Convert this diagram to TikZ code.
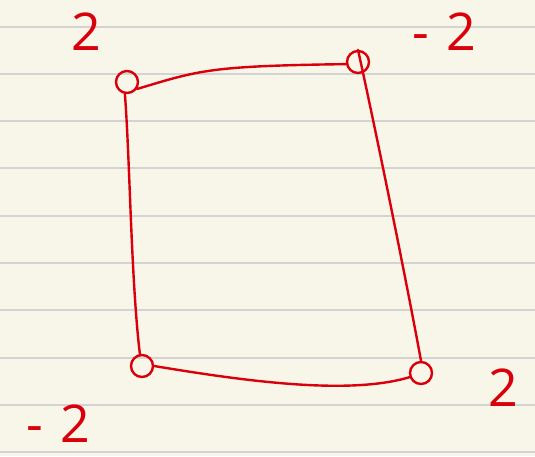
\documentclass[tikz,border=0pt]{standalone}
\usepackage{fontspec}
\setsansfont{Open Sans}
\definecolor{paper}{HTML}{F8F5E9}
\definecolor{rule}{HTML}{D3D3D3}
\definecolor{ink}{HTML}{D9000B}
\begin{document}
\begin{tikzpicture}[x=1pt,y=-1pt,
  corner/.style={circle,draw=ink,line width=2.4pt,minimum size=22pt,inner sep=0pt},
  edge/.style={draw=ink,line width=2.4pt,line cap=round},
  lab/.style={text=ink,font=\sffamily\fontsize{52}{52}\selectfont,inner sep=0pt}]
\fill[paper] (0,0) rectangle (535,456);
\useasboundingbox (0,0) rectangle (535,456);
\foreach \y in {27,74,121,168,216,263,310,358,405,452}
  \draw[rule,line width=1.3pt] (0,\y) -- (535,\y);
\node[corner] (tl) at (127,82) {};
\node[corner] (tr) at (358,62) {};
\node[corner] (bl) at (142,366) {};
\node[corner] (br) at (421,373) {};
\draw[edge] (tl.-35) .. controls (200,70) and (210,66) .. (tr.190);
\draw[edge] (tl.-100) .. controls (130,160) and (131,280) .. (bl.100);
\draw[edge] (tr.north) .. controls (380,150) and (410,300) .. (br.north);
\draw[edge] (bl.east) .. controls (250,382) and (350,395) .. (br.200);
\node[lab] (l1) at (86,32) {2};
\node[lab] (l2) at (444,32) {-\,\,2};
\node[lab] (l3) at (58,424) {-\,\,2};
\node[lab] (l4) at (503,388) {2};
\end{tikzpicture}
\end{document}
